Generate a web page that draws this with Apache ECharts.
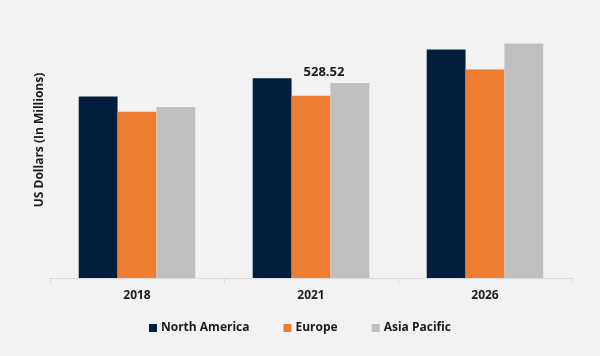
<!DOCTYPE html>
<html><head><meta charset="utf-8">
<script src="https://cdn.jsdelivr.net/npm/echarts@6/dist/echarts.min.js"></script>
<style>html,body{margin:0;padding:0;background:#f2f2f2}#c{width:600px;height:356px}</style>
</head><body><div id="c"></div>
<script>
const categories = ['2018', '2021', '2026'];
const northAmerica = [526, 579, 662];
const europe = [482, 528.52, 604];
const asiaPacific = [496, 565, 680];
const seriesNames = ['North America', 'Europe', 'Asia Pacific'];
const colors = ['#021e3d', '#ed7d31', '#bfbfbf'];
const font = '"Open Sans", sans-serif';

const chart = echarts.init(document.getElementById('c'));
chart.setOption({
  backgroundColor: '#f2f2f2',
  animation: false,
  grid: { left: 50, right: 28, top: 2, bottom: 78 },
  legend: {
    bottom: 17, left: 'center',
    itemWidth: 8, itemHeight: 8, itemGap: 34,
    icon: 'rect',
    textStyle: { fontFamily: font, fontWeight: 'bold', fontSize: 12, color: '#1a1a1a', padding: [0, 0, 0, -1] },
    data: seriesNames
  },
  xAxis: {
    type: 'category', data: categories,
    axisLine: { lineStyle: { color: '#d9d9d9', width: 1 } },
    axisTick: { show: true, length: 5, lineStyle: { color: '#d9d9d9' } },
    axisLabel: { fontFamily: font, fontWeight: 'bold', fontSize: 12, color: '#1a1a1a', margin: 12 }
  },
  yAxis: {
    type: 'value', min: 0, max: 800,
    name: 'US Dollars (In Millions)', nameLocation: 'middle', nameGap: 4, nameRotate: 90,
    nameTextStyle: { fontFamily: font, fontWeight: 'bold', fontSize: 12, color: '#1a1a1a' },
    axisLine: { show: false }, axisTick: { show: false }, axisLabel: { show: false },
    splitLine: { show: false }
  },
  series: [
    { name: seriesNames[0], type: 'bar', data: northAmerica, itemStyle: { color: colors[0] }, barGap: '0%', barCategoryGap: '33%' },
    { name: seriesNames[1], type: 'bar', data: europe.map((v, i) => i === 1 ? { value: v, label: { show: true } } : v),
      itemStyle: { color: colors[1] },
      label: { show: false, position: 'top', distance: 17, offset: [13, 0], formatter: p => p.value.toFixed(2),
        fontFamily: font, fontWeight: 'bold', fontSize: 13, color: '#1a1a1a' } },
    { name: seriesNames[2], type: 'bar', data: asiaPacific, itemStyle: { color: colors[2] } }
  ]
});
</script></body></html>
